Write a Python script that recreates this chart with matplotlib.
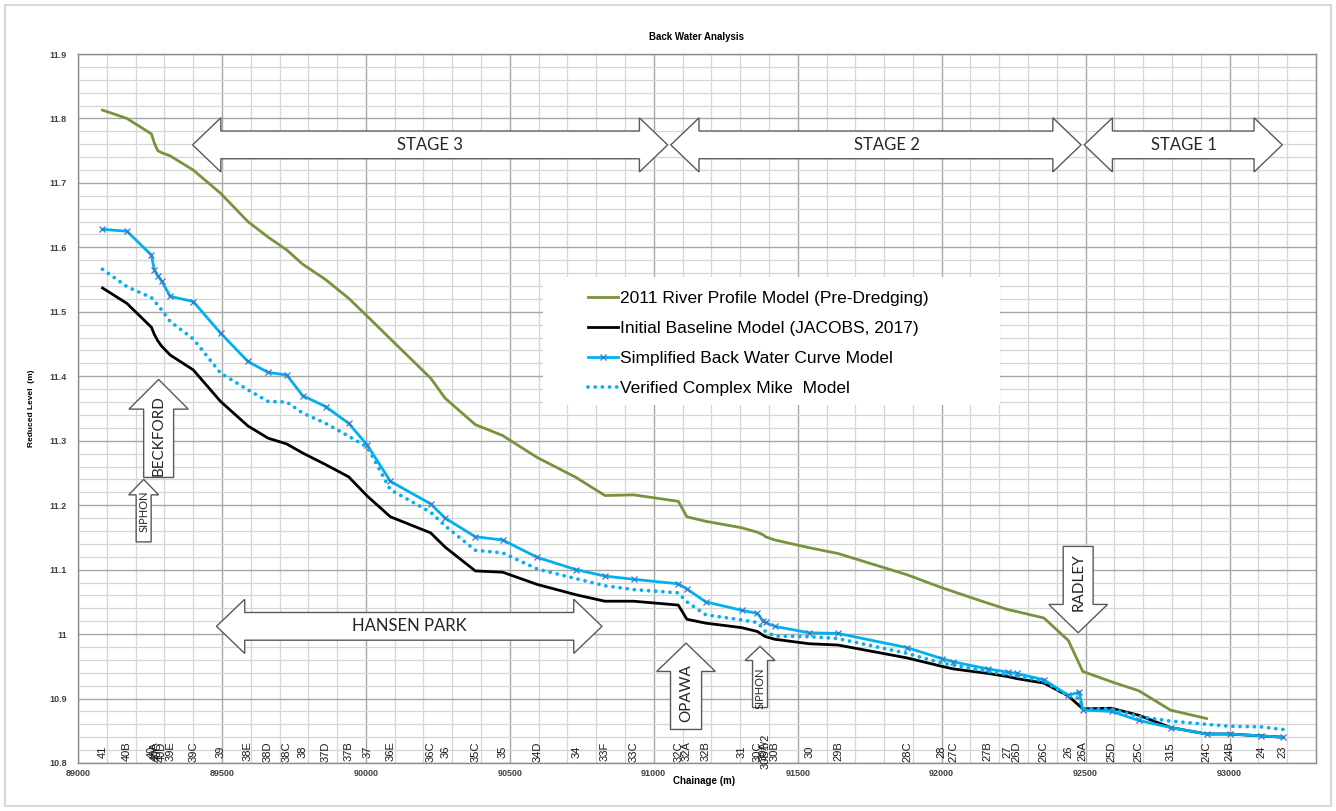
import matplotlib
matplotlib.use("Agg")
import matplotlib.pyplot as plt
import numpy as np
from matplotlib.patches import Polygon, Rectangle
from matplotlib.ticker import MultipleLocator, FuncFormatter

# Cross sections along the river (labels drawn along the bottom of the plot)
sections = ["41", "40B", "40", "40A", "40C", "40D", "39E", "39C", "39", "38E",
            "38D", "38C", "38", "37D", "37B", "37", "36E", "36C", "36", "35C",
            "35", "34D", "34", "33F", "33C", "32C", "32A", "32B", "31", "30C",
            "30A", "30B1/2", "30B", "30", "29B", "28C", "28", "27C", "27B", "27",
            "26D", "26C", "26", "", "26A", "25D", "25C", "315", "24C", "24B",
            "24", "23"]
chainage = [89085, 89170, 89255, 89265, 89277, 89290, 89320, 89400, 89495, 89590,
            89660, 89725, 89780, 89860, 89940, 90005, 90085, 90225, 90275, 90380,
            90475, 90595, 90730, 90830, 90930, 91085, 91115, 91180, 91305, 91360,
            91380, 91388, 91420, 91540, 91640, 91880, 92000, 92040, 92160, 92230,
            92260, 92355, 92440, 92478, 92490, 92590, 92685, 92795, 92920, 93000,
            93110, 93185]

nan = np.nan
river_2011 = [11.813, 11.800, 11.776, 11.762, 11.750, 11.747, 11.742, 11.720, 11.684, 11.640,
              11.616, 11.596, 11.574, 11.550, 11.521, 11.493, 11.458, 11.397, 11.366, 11.325,
              11.308, 11.274, 11.243, 11.215, 11.216, 11.206, 11.182, 11.175, 11.165, 11.158,
              11.154, 11.151, 11.146, 11.134, 11.125, 11.092, 11.072, 11.066, 11.048, 11.038,
              11.035, 11.025, 10.990, nan, 10.942, 10.926, 10.912, 10.882, 10.869, nan,
              nan, nan]
baseline = [11.537, 11.513, 11.476, 11.465, 11.455, 11.447, 11.433, 11.410, 11.361, 11.323,
            11.304, 11.295, 11.281, 11.263, 11.244, 11.214, 11.182, 11.157, 11.135, 11.098,
            11.096, 11.077, 11.061, 11.051, 11.051, 11.045, 11.023, 11.017, 11.010, 11.004,
            10.998, 10.996, 10.992, 10.985, 10.983, 10.963, 10.950, 10.946, 10.939, 10.934,
            10.931, 10.924, 10.904, nan, 10.884, 10.885, 10.874, 10.855, 10.845, 10.845,
            10.842, 10.840]
simplified = [11.628, 11.625, 11.588, 11.565, 11.556, 11.548, 11.524, 11.516, 11.467, 11.423,
              11.406, 11.402, 11.370, 11.353, 11.327, 11.293, 11.237, 11.202, 11.180, 11.151,
              11.146, 11.119, 11.100, 11.090, 11.085, 11.078, 11.070, 11.050, 11.037, 11.032,
              11.020, 11.018, 11.012, 11.002, 11.001, 10.979, 10.962, 10.957, 10.946, 10.941,
              10.939, 10.929, 10.905, 10.910, 10.882, 10.880, 10.866, 10.855, 10.845, 10.845,
              10.842, 10.840]
mike = [11.566, 11.539, 11.522, 11.516, 11.511, 11.503, 11.485, 11.458, 11.405, 11.379,
        11.361, 11.360, 11.343, 11.327, 11.307, 11.290, 11.224, 11.189, 11.168, 11.130,
        11.126, 11.101, 11.086, 11.075, 11.069, 11.064, 11.050, 11.030, 11.022, 11.018,
        11.008, 11.004, 10.997, 10.996, 10.993, 10.970, 10.955, 10.952, 10.942, 10.937,
        10.935, 10.927, 10.904, 10.900, 10.884, 10.884, 10.872, 10.865, 10.860, 10.857,
        10.856, 10.852]

series_names = ["2011 River Profile Model (Pre-Dredging)",
                "Initial Baseline Model (JACOBS, 2017)",
                "Simplified Back Water Curve Model",
                "Verified Complex Mike  Model"]

x = np.array(chainage, dtype=float)


def plot_series(ax, values, **kw):
    # drop sections with no value for this series
    y = np.array(values, dtype=float)
    ok = ~np.isnan(y)
    return ax.plot(x[ok], y[ok], **kw)[0]


def h_arrow(ax, x0, x1, yc, text, xt, hb=0.0215, hh=0.042, hl=98, fs=12):
    pts = [(x0, yc), (x0 + hl, yc + hh), (x0 + hl, yc + hb), (x1 - hl, yc + hb),
           (x1 - hl, yc + hh), (x1, yc), (x1 - hl, yc - hh), (x1 - hl, yc - hb),
           (x0 + hl, yc - hb), (x0 + hl, yc - hh)]
    ax.add_patch(Polygon(pts, closed=True, facecolor="white", edgecolor="#595959",
                         lw=1.0, zorder=6, joinstyle="miter"))
    ax.text(xt, yc, text, ha="center", va="center", fontsize=fs, family="Lato",
            color="#262626", zorder=7)


def v_arrow(ax, xc, y_end, y_head, y_tip, bw, hw, text, text_y, fs=11):
    pts = [(xc - bw, y_end), (xc - bw, y_head), (xc - hw, y_head), (xc, y_tip),
           (xc + hw, y_head), (xc + bw, y_head), (xc + bw, y_end)]
    ax.add_patch(Polygon(pts, closed=True, facecolor="white", edgecolor="#595959",
                         lw=1.0, zorder=6, joinstyle="miter"))
    ax.text(xc, text_y, text, rotation=90, ha="center", va="center", fontsize=fs,
            family="Lato", color="#262626", zorder=7)


fig = plt.figure(figsize=(13.36, 8.11), dpi=100)
fig.patch.set_facecolor("white")
fig.patches.append(Rectangle((0.004, 0.006), 0.992, 0.988, transform=fig.transFigure,
                             fill=False, edgecolor="#d9d9d9", lw=1.5))
ax = fig.add_axes([0.0584, 0.0592, 0.9266, 0.8742])

ax.set_xlim(89000, 93300)
ax.set_ylim(10.8, 11.9)
ax.xaxis.set_major_locator(MultipleLocator(500))
ax.xaxis.set_minor_locator(MultipleLocator(100))
ax.yaxis.set_major_locator(MultipleLocator(0.1))
ax.yaxis.set_minor_locator(MultipleLocator(0.02))
ax.yaxis.set_major_formatter(FuncFormatter(lambda v, p: "%g" % round(v, 2)))
ax.grid(which="major", color="#a6a6a6", lw=1.0, zorder=0)
ax.grid(which="minor", color="#d6d6d6", lw=0.9, zorder=0)
ax.set_axisbelow(True)
for s in ax.spines.values():
    s.set_color("#8c8c8c")
    s.set_linewidth(1.0)
ax.tick_params(which="both", length=0, labelsize=6.5, labelcolor="#404040", pad=4)
ax.tick_params(axis="y", pad=8)
for lab in ax.get_xticklabels() + ax.get_yticklabels():
    lab.set_fontweight("bold")
    lab.set_family("Liberation Sans")

ax.set_title("Back Water Analysis", fontsize=7, fontweight="bold", family="Liberation Sans",
             pad=10)
ax.set_xlabel("Chainage (m)", fontsize=7, fontweight="bold", family="Liberation Sans")
ax.xaxis.set_label_coords(0.506, -0.018)
ax.set_ylabel("Reduced Level  (m)", fontsize=6, fontweight="bold", family="Liberation Sans")
ax.yaxis.set_label_coords(-0.035, 0.5)

h1 = plot_series(ax, river_2011, color="#77933c", lw=2.0, zorder=4, label=series_names[0])
h2 = plot_series(ax, baseline, color="black", lw=2.0, zorder=4, label=series_names[1])
h3 = plot_series(ax, simplified, color="#00b0f0", lw=2.0, marker="x", ms=4, mew=0.9,
                 mec="#3a78c8", zorder=4, label=series_names[2])
h4 = plot_series(ax, mike, color="#00b0f0", lw=2.7, linestyle=(0, (0.01, 1.9)),
                 dash_capstyle="round", zorder=4, label=series_names[3])

# section names along the bottom
for name, c in zip(sections, chainage):
    if name:
        ax.text(c, 10.818, name, rotation=90, ha="center", va="center", fontsize=8,
                family="Liberation Sans", color="#1a1a1a", zorder=5)

# legend sits on a white box
ax.add_patch(Rectangle((0.3756, 0.505), 0.369, 0.1805, transform=ax.transAxes,
                       facecolor="white", edgecolor="none", zorder=3))
leg = ax.legend(handles=[h1, h2, h3, h4], loc="upper left", bbox_to_anchor=(0.405, 0.678),
                frameon=False, prop={"family": "Liberation Sans", "size": 12.5},
                handlelength=1.75, handletextpad=0.1, labelspacing=0.86, borderpad=0)
leg.set_zorder(5)

# stage arrows
h_arrow(ax, 89398, 91048, 11.759, "STAGE 3", 90223)
h_arrow(ax, 91059, 92484, 11.759, "STAGE 2", 91810)
h_arrow(ax, 92495, 93183, 11.759, "STAGE 1", 92841)
h_arrow(ax, 89481, 90820, 11.012, "HANSEN PARK", 90152)

v_arrow(ax, 89280, 11.243, 11.349, 11.395, 52, 103, "BECKFORD", 11.308)
v_arrow(ax, 89228, 11.143, 11.216, 11.240, 26, 52, "SIPHON", 11.19, fs=8)
v_arrow(ax, 91112, 10.852, 10.942, 10.986, 54, 102, "OPAWA", 10.909)
v_arrow(ax, 91369, 10.886, 10.959, 10.981, 26, 52, "SIPHON", 10.916, fs=8)
v_arrow(ax, 92474, 11.136, 11.046, 11.002, 52, 102, "RADLEY", 11.080)

fig.savefig("out.png", dpi=100, facecolor="white")
